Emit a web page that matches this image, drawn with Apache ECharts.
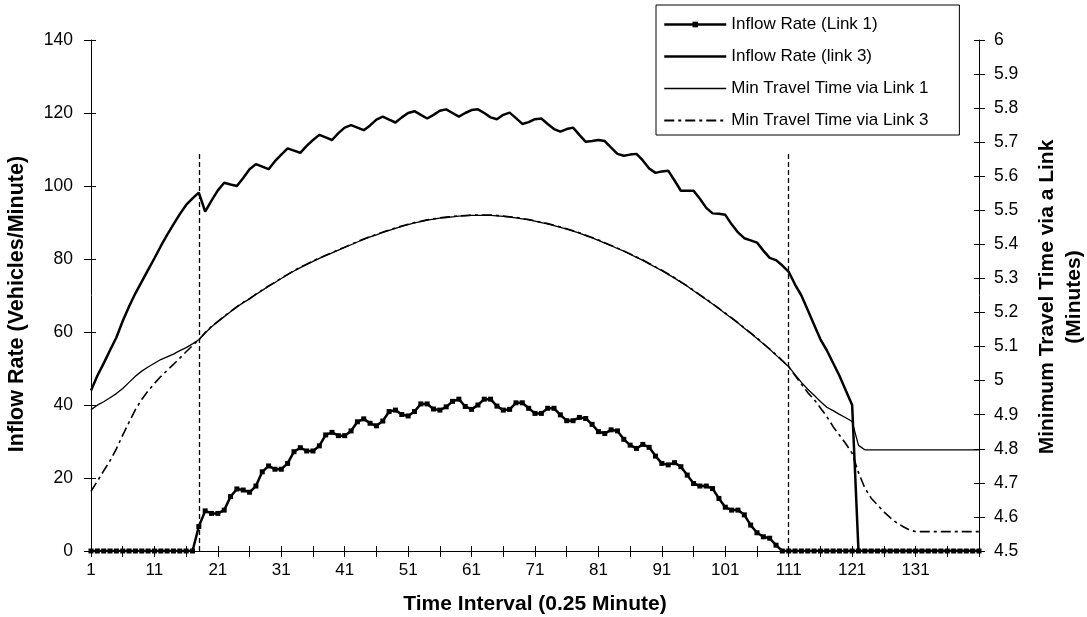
<!DOCTYPE html>
<html>
<head>
<meta charset="utf-8">
<script src="https://cdn.jsdelivr.net/npm/echarts@6/dist/echarts.min.js"></script>
<style>
html,body{margin:0;padding:0;background:#fff;}
#chart{width:1087px;height:617px;}
</style>
</head>
<body>
<div id="chart"></div>
<script>
// ---- categories (time interval index 1..141) ----
var categories = [];
for (var i = 1; i <= 141; i++) categories.push(String(i));

// ---- Inflow Rate (Link 1), vehicles/minute ----
var inflowLink1 = [
  0,0,0,0,0,0,0,0,0,0,            // 1-10
  0,0,0,0,0,0,0,6.7,11.0,10.3,    // 11-20
  10.3,11.2,14.9,17.0,16.7,16.1,17.8,21.7,23.3,22.4, // 21-30
  22.4,24.0,27.2,28.3,27.4,27.4,28.8,31.8,32.5,31.6, // 31-40
  31.6,32.9,35.4,36.2,35.0,34.3,35.6,38.2,38.6,37.4, // 41-50
  37.0,38.2,40.3,40.3,38.9,38.6,39.5,41.0,41.6,39.6, // 51-60
  38.8,40.0,41.6,41.6,39.7,38.6,38.8,40.6,40.6,39.1, // 61-70
  37.7,37.7,39.1,39.1,37.3,35.7,35.7,36.6,36.3,34.7, // 71-80
  32.7,32.2,33.2,32.9,30.6,29.0,28.1,29.2,28.4,26.0, // 81-90
  24.0,23.6,24.2,23.1,20.8,18.5,17.8,17.8,17.1,14.4, // 91-100
  12.0,11.2,11.2,9.9,7.1,5.0,3.9,3.5,1.6,0,          // 101-110
  0,0,0,0,0,0,0,0,0,0,            // 111-120
  0,0,0,0,0,0,0,0,0,0,            // 121-130
  0,0,0,0,0,0,0,0,0,0,0           // 131-141
];

// ---- Inflow Rate (link 3), vehicles/minute ----
var inflowLink3 = [
  44.0,48.0,51.4,55.0,58.5,63.0,67.0,70.6,73.8,77.0,        // 1-10
  80.2,83.5,86.6,89.5,92.3,94.8,96.6,98.2,93.0,96.0,        // 11-20
  98.8,100.9,100.4,100.0,102.2,104.6,106.0,105.3,104.6,106.8, // 21-30
  108.6,110.3,109.7,109.1,111.0,112.6,114.0,113.3,112.6,114.5, // 31-40
  116.0,116.7,116.0,115.3,116.6,118.2,119.0,118.2,117.4,118.8, // 41-50
  120.0,120.5,119.5,118.5,119.5,120.6,121.0,120.0,119.0,120.0, // 51-60
  120.8,121.0,120.0,118.8,118.3,119.5,120.1,118.6,117.0,117.5, // 61-70
  118.3,118.5,117.0,115.6,114.9,115.6,116.0,114.0,112.1,112.3, // 71-80
  112.6,112.3,110.5,108.8,108.3,108.6,108.8,107.0,104.8,103.6, // 81-90
  104.0,104.2,101.5,98.7,98.7,98.7,96.5,94.0,92.5,92.4,      // 91-100
  92.1,89.5,87.3,85.7,85.1,84.5,82.3,80.3,79.7,78.2,         // 101-110
  76.5,73.0,70.0,66.0,62.0,58.0,55.0,51.5,48.0,44.0,         // 111-120
  40.0,0,0,0,0,0,0,0,0,0,                                    // 121-130
  0,0,0,0,0,0,0,0,0,0,0                                      // 131-141
];

// ---- Min Travel Time via Link 1 (minutes) ----
var travelLink1 = [
  4.915,4.928,4.938,4.950,4.962,4.977,4.995,5.013,5.028,5.040, // 1-10
  5.051,5.062,5.070,5.078,5.088,5.097,5.108,5.120,5.140,5.158, // 11-20
  5.173,5.188,5.202,5.216,5.229,5.240,5.253,5.265,5.277,5.288, // 21-30
  5.300,5.311,5.322,5.332,5.341,5.350,5.359,5.367,5.375,5.383, // 31-40
  5.391,5.399,5.407,5.415,5.422,5.428,5.435,5.441,5.447,5.453, // 41-50
  5.458,5.463,5.467,5.471,5.474,5.477,5.479,5.481,5.483,5.484, // 51-60
  5.485,5.485,5.485,5.485,5.484,5.482,5.480,5.478,5.475,5.472, // 61-70
  5.468,5.464,5.460,5.455,5.450,5.445,5.439,5.433,5.426,5.419, // 71-80
  5.412,5.404,5.396,5.388,5.380,5.371,5.362,5.353,5.343,5.333, // 81-90
  5.323,5.312,5.301,5.289,5.277,5.264,5.251,5.238,5.225,5.211, // 91-100
  5.197,5.183,5.169,5.154,5.139,5.124,5.108,5.092,5.075,5.058, // 101-110
  5.041,5.018,4.995,4.975,4.957,4.939,4.922,4.912,4.901,4.891, // 111-120
  4.880,4.810,4.797,4.797,4.797,4.797,4.797,4.797,4.797,4.797, // 121-130
  4.797,4.797,4.797,4.797,4.797,4.797,4.797,4.797,4.797,4.797,4.797 // 131-141
];

// ---- Min Travel Time via Link 3 (minutes) ----
var travelLink3 = [
  4.675,4.705,4.735,4.765,4.800,4.840,4.878,4.915,4.945,4.970, // 1-10
  4.992,5.012,5.030,5.048,5.066,5.085,5.103,5.120,5.141,5.159, // 11-20
  5.174,5.189,5.203,5.217,5.230,5.241,5.254,5.266,5.278,5.289, // 21-30
  5.301,5.312,5.323,5.333,5.342,5.351,5.360,5.368,5.376,5.384, // 31-40
  5.392,5.400,5.408,5.416,5.423,5.429,5.436,5.442,5.448,5.454, // 41-50
  5.459,5.464,5.468,5.472,5.475,5.478,5.480,5.482,5.484,5.485, // 51-60
  5.486,5.486,5.486,5.486,5.485,5.483,5.481,5.479,5.476,5.473, // 61-70
  5.469,5.465,5.461,5.456,5.451,5.446,5.440,5.434,5.427,5.420, // 71-80
  5.413,5.405,5.397,5.389,5.381,5.372,5.363,5.354,5.344,5.334, // 81-90
  5.324,5.313,5.302,5.290,5.278,5.265,5.252,5.239,5.226,5.212, // 91-100
  5.198,5.184,5.170,5.155,5.140,5.125,5.109,5.093,5.076,5.059, // 101-110
  5.041,5.015,4.990,4.965,4.945,4.920,4.895,4.865,4.840,4.815, // 111-120
  4.787,4.730,4.685,4.655,4.635,4.615,4.598,4.583,4.572,4.562, // 121-130
  4.557,4.557,4.557,4.557,4.557,4.557,4.557,4.557,4.557,4.557,4.557 // 131-141
];

// ---- vertical dashed marker lines (category) and their top (left-axis value) ----
var dividerCategories = ['18', '111'];
var dividerTop = 109.3;

var FONT = '"Liberation Sans", Arial, Helvetica, sans-serif';

var chart = echarts.init(document.getElementById('chart'), null, {renderer: 'canvas'});

function xLabelInterval(idx) { return idx % 10 === 0 && idx < 140; }
function xTickInterval(idx) { return idx % 5 === 0; }

var noSymbol = {color: 'rgba(0,0,0,0)', borderWidth: 0, opacity: 0};
var DASH_DOT = [10, 4, 3, 4];

var option = {
  animation: false,
  backgroundColor: '#ffffff',
  grid: {left: 91, right: 108, top: 40, bottom: 66, containLabel: false},
  legend: {
    orient: 'vertical',
    left: 656,
    top: 5,
    padding: [11, 31, 6, 7],
    itemWidth: 62,
    itemHeight: 7,
    itemGap: 15,
    backgroundColor: '#ffffff',
    borderColor: '#000000',
    borderWidth: 1,
    textStyle: {fontFamily: FONT, fontSize: 17, color: '#000'},
    data: [
      {name: 'Inflow Rate (Link 1)', lineStyle: {color: '#000', width: 2.5}},
      {name: 'Inflow Rate (link 3)', itemStyle: noSymbol, lineStyle: {color: '#000', width: 2.5}},
      {name: 'Min Travel Time via Link 1', itemStyle: noSymbol, lineStyle: {color: '#000', width: 1.4}},
      {name: 'Min Travel Time via Link 3', itemStyle: noSymbol, lineStyle: {color: '#000', width: 1.8, type: DASH_DOT}}
    ]
  },
  xAxis: [
    {
      type: 'category', data: categories, boundaryGap: false, position: 'bottom',
      axisLine: {show: true, onZero: false, lineStyle: {color: '#000', width: 1}},
      axisTick: {show: true, inside: false, length: 6, interval: xTickInterval, lineStyle: {color: '#000'}},
      axisLabel: {show: true, interval: xLabelInterval, margin: 11, color: '#000', fontFamily: FONT, fontSize: 17},
      splitLine: {show: false}
    },
    {
      type: 'category', data: categories, boundaryGap: false, position: 'bottom',
      axisLine: {show: false, onZero: false},
      axisTick: {show: true, inside: true, length: 5, interval: xTickInterval, lineStyle: {color: '#000'}},
      axisLabel: {show: false},
      splitLine: {show: false}
    }
  ],
  yAxis: [
    {
      type: 'value', position: 'left', min: 0, max: 140, interval: 20,
      axisLine: {show: true, onZero: false, lineStyle: {color: '#000', width: 1}},
      axisTick: {show: true, inside: false, length: 7, lineStyle: {color: '#000'}},
      axisLabel: {margin: 18, color: '#000', fontFamily: FONT, fontSize: 17.5},
      splitLine: {show: false}
    },
    {
      type: 'value', position: 'right', min: 4.5, max: 6, interval: 0.1,
      axisLine: {show: true, onZero: false, lineStyle: {color: '#000', width: 1}},
      axisTick: {show: true, inside: false, length: 6, lineStyle: {color: '#000'}},
      axisLabel: {margin: 15, color: '#000', fontFamily: FONT, fontSize: 17.5},
      splitLine: {show: false}
    },
    {
      type: 'value', position: 'left', min: 0, max: 140, interval: 20,
      axisLine: {show: false},
      axisTick: {show: true, inside: true, length: 5, lineStyle: {color: '#000'}},
      axisLabel: {show: false},
      splitLine: {show: false}
    },
    {
      type: 'value', position: 'right', min: 4.5, max: 6, interval: 0.1,
      axisLine: {show: false},
      axisTick: {show: true, inside: true, length: 5, lineStyle: {color: '#000'}},
      axisLabel: {show: false},
      splitLine: {show: false}
    }
  ],
  series: [
    {
      name: 'Inflow Rate (Link 1)', type: 'line', xAxisIndex: 0, yAxisIndex: 0,
      data: inflowLink1, symbol: 'rect', symbolSize: 5, showSymbol: true, showAllSymbol: true,
      itemStyle: {color: '#000'}, lineStyle: {color: '#000', width: 2.5}, z: 4,
      markLine: {
        silent: true, symbol: ['none', 'none'], label: {show: false},
        lineStyle: {color: '#000', width: 1.3, type: [5, 3]},
        data: dividerCategories.map(function (c) { return [{coord: [c, 0]}, {coord: [c, dividerTop]}]; })
      }
    },
    {
      name: 'Inflow Rate (link 3)', type: 'line', xAxisIndex: 0, yAxisIndex: 0,
      data: inflowLink3, symbol: 'none',
      itemStyle: {color: '#000'}, lineStyle: {color: '#000', width: 2.5}, z: 3
    },
    {
      name: 'Min Travel Time via Link 1', type: 'line', xAxisIndex: 0, yAxisIndex: 1,
      data: travelLink1, symbol: 'none',
      itemStyle: {color: '#000'}, lineStyle: {color: '#000', width: 1.3}, z: 2
    },
    {
      name: 'Min Travel Time via Link 3', type: 'line', xAxisIndex: 0, yAxisIndex: 1,
      data: travelLink3, symbol: 'none',
      itemStyle: {color: '#000'}, lineStyle: {color: '#000', width: 1.6, type: DASH_DOT}, z: 2
    }
  ],
  graphic: [
    {
      type: 'text', x: 535, y: 604,
      style: {text: 'Time Interval (0.25 Minute)', fontFamily: FONT, fontSize: 21, fontWeight: 'bold', fill: '#000', textAlign: 'center', textVerticalAlign: 'middle'}
    },
    {
      type: 'text', x: 17, y: 304, rotation: Math.PI / 2,
      style: {text: 'Inflow Rate (Vehicles/Minute)', fontFamily: FONT, fontSize: 21.5, fontWeight: 'bold', fill: '#000', textAlign: 'center', textVerticalAlign: 'middle'}
    },
    {
      type: 'text', x: 1061, y: 297, rotation: Math.PI / 2,
      style: {text: 'Minimum Travel Time via a Link\n(Minutes)', fontFamily: FONT, fontSize: 21, fontWeight: 'bold', fill: '#000', textAlign: 'center', textVerticalAlign: 'middle', lineHeight: 27}
    }
  ]
};
chart.setOption(option);
</script>
</body>
</html>
